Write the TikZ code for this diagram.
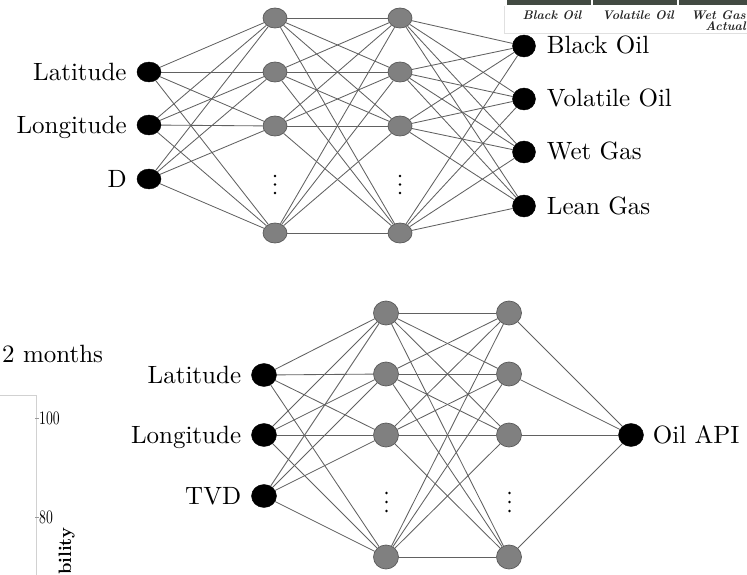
\documentclass[tikz,border=0pt]{standalone}
\usepackage{fontspec}
\usetikzlibrary{shapes.geometric}
% text-size design of Latin Modern, scaled up for the large labels
\newfontfamily\lmten{lmroman10-regular}[Extension=.otf, BoldFont=lmroman10-bold, ItalicFont=lmroman10-italic, BoldItalicFont=lmroman10-bolditalic]
\pgfdeclarelayer{bg}
\pgfsetlayers{bg,main}
\definecolor{bandcol}{RGB}{66,74,66}
\begin{document}
\begin{tikzpicture}[x=1pt,y=-1pt,
  inp/.style={ellipse, fill=black, draw=black, inner sep=0pt, minimum width=24pt, minimum height=20pt},
  hid/.style={ellipse, fill=black!50, draw=black!65, line width=0.7pt, inner sep=0pt, minimum width=24pt, minimum height=20pt},
  outp/.style={ellipse, fill=black, draw=black, inner sep=0pt, minimum width=23pt, minimum height=22pt},
  binp/.style={inp, minimum width=25pt, minimum height=23pt},
  bhid/.style={hid, minimum width=25pt, minimum height=24pt},
  edge/.style={draw=black!62, line width=0.85pt},
  lab/.style={inner sep=0pt, font=\lmten\fontsize{25}{30}\selectfont},
  tab/.style={inner sep=0pt, font=\lmten\fontsize{12.5}{14}\selectfont\bfseries\itshape, text=black!85},
  vdot/.style={fill=black, radius=1.3pt}
]
\useasboundingbox (0,0) rectangle (747,575);

% ---------------- upper network: fluid type classifier ----------------
\node[inp] (tI1) at (149,72) {};
\node[inp] (tI2) at (149,125) {};
\node[inp] (tI3) at (149,179) {};
\foreach \y [count=\k] in {18,72,126,233} {
  \node[hid] (tA\k) at (275,\y) {};
  \node[hid] (tB\k) at (400,\y) {};
}
\foreach \y [count=\k] in {46,99,152,206}
  \node[outp] (tO\k) at (524,\y) {};
\foreach \x in {275,400}
  \foreach \y in {176,184.5,193} \fill[vdot] (\x,\y) circle;

\node[lab, anchor=base east, xshift=-10pt, yshift=-8.5pt] (tL1) at (tI1.west) {Latitude};
\node[lab, anchor=base east, xshift=-10pt, yshift=-8.5pt] (tL2) at (tI2.west) {Longitude};
\node[lab, anchor=base east, xshift=-10pt, yshift=-8.5pt] (tL3) at (tI3.west) {D};
\node[lab, anchor=base west, xshift=11pt, yshift=-8pt] (tR1) at (tO1.east) {Black Oil};
\node[lab, anchor=base west, xshift=11pt, yshift=-8pt] (tR2) at (tO2.east) {Volatile Oil};
\node[lab, anchor=base west, xshift=11pt, yshift=-8pt] (tR3) at (tO3.east) {Wet Gas};
\node[lab, anchor=base west, xshift=11pt, yshift=-8pt] (tR4) at (tO4.east) {Lean Gas};

% ---------------- lower network: API gravity regressor ----------------
\node[binp] (bI1) at (264,375) {};
\node[binp] (bI2) at (264,435) {};
\node[binp] (bI3) at (264,496) {};
\foreach \y [count=\k] in {313,374,435,557} {
  \node[bhid] (bA\k) at (386,\y) {};
  \node[bhid] (bB\k) at (509,\y) {};
}
\node[binp] (bO) at (631,435) {};
\foreach \x in {386.5,509.5}
  \foreach \y in {493,502,511} \fill[vdot] (\x,\y) circle;

\node[lab, anchor=base east, xshift=-10pt, yshift=-8.5pt] (bL1) at (bI1.west) {Latitude};
\node[lab, anchor=base east, xshift=-10pt, yshift=-8.5pt] (bL2) at (bI2.west) {Longitude};
\node[lab, anchor=base east, xshift=-10pt, yshift=-8.5pt] (bL3) at (bI3.west) {TVD};
\node[lab, anchor=base west, xshift=9pt, yshift=-8.5pt] (bR) at (bO.east) {Oil API};

% ---------------- connections ----------------
\begin{pgfonlayer}{bg}
  \foreach \i in {1,2,3}
    \foreach \j in {1,...,4} {
      \draw[edge] (tI\i) -- (tA\j);
      \draw[edge] (bI\i) -- (bA\j);
    }
  \foreach \i in {1,...,4}
    \foreach \j in {1,...,4} {
      \draw[edge] (tA\i) -- (tB\j);
      \draw[edge] (bA\i) -- (bB\j);
      \draw[edge] (tB\i) -- (tO\j);
    }
  \foreach \i in {1,...,4}
    \draw[edge] (bB\i) -- (bO);
\end{pgfonlayer}

% ---------------- neighbouring figure pieces ----------------
% confusion-matrix header strip, upper right
\fill[bandcol] (507,0) rectangle (747,5);
\fill[white] (591,0) rectangle (593,5);
\fill[white] (677,0) rectangle (679,5);
\draw[black!12, line width=0.8pt] (504.5,6) -- (504.5,33.5) -- (747,33.5);
\node[tab] (c1) at (552,15) {Black Oil};
\node[tab] (c2) at (638,15) {Volatile Oil};
\node[tab, anchor=east] (c3) at (746,15) {Wet Gas};
\node[tab, anchor=east] (c4) at (746,26) {Actual};

% chart fragment, lower left
\node[lab, anchor=base west] (ttl) at (2,362) {2 months};
\draw[black!18, line width=1pt] (0,395.5) -- (36,395.5) -- (36,575);
\draw[black!40, line width=0.6pt] (35,418) -- (38.5,418);
\draw[black!40, line width=0.6pt] (35,517) -- (38.5,517);
\node[inner sep=0pt, anchor=west] (t100) at (39,418) {\scalebox{0.72}[1]{\lmten\fontsize{19}{19}\selectfont 100}};
\node[inner sep=0pt, anchor=west] (t80) at (39,517) {\scalebox{0.72}[1]{\lmten\fontsize{19}{19}\selectfont 80}};
\node[inner sep=0pt, rotate=90, anchor=base west, font=\lmten\fontsize{18}{18}\selectfont\bfseries] (ylab) at (71,575) {bility};
\end{tikzpicture}
\end{document}
